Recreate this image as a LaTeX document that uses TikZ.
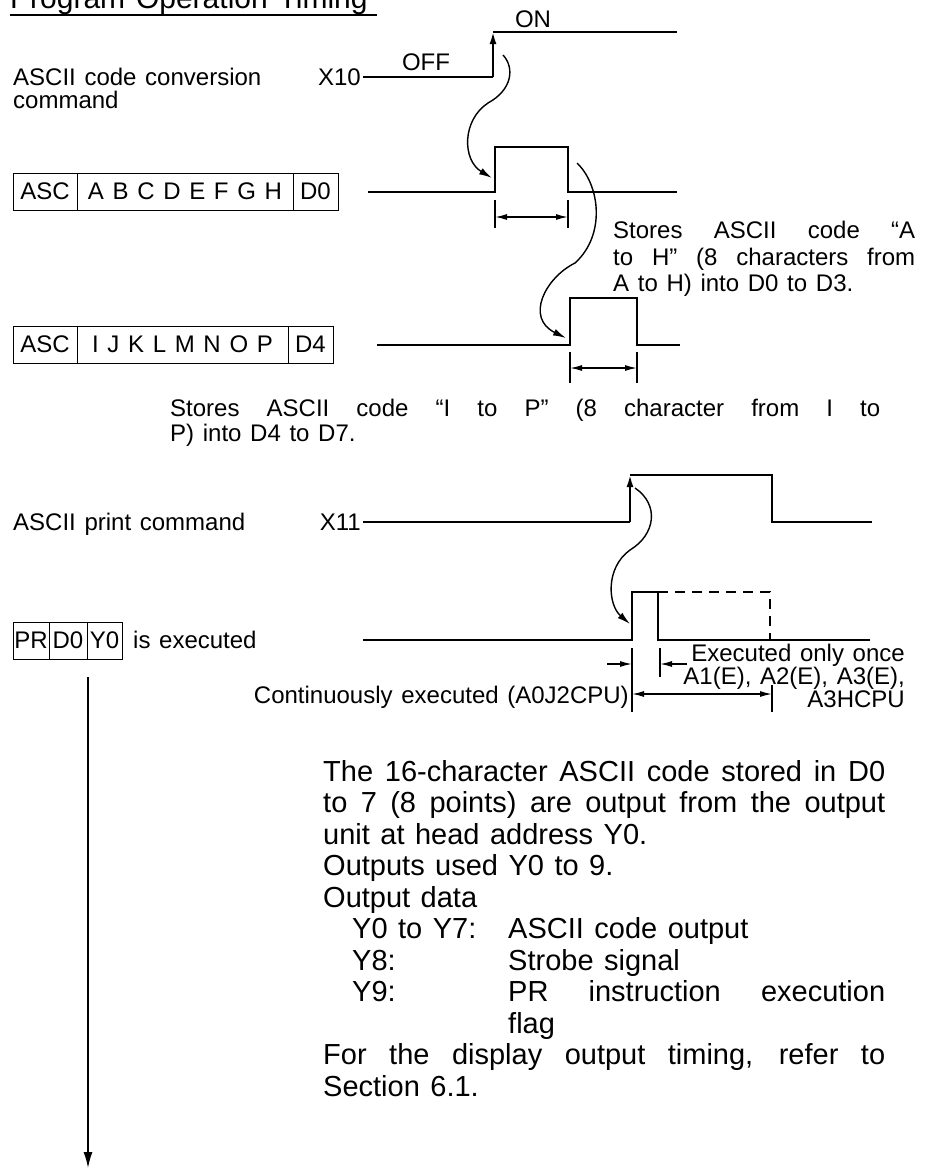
\documentclass[tikz,border=0pt]{standalone}
\usepackage{fontspec}
\setmainfont{Liberation Sans}[WordSpace=1.3]
\usetikzlibrary{arrows.meta,positioning,calc}
\setlength{\parindent}{0pt}
\tikzset{txt/.style={inner sep=0pt, font=\fontsize{24}{24}\selectfont}}
\tikzset{cell/.style={draw, line width=1pt, inner sep=0pt, outer sep=0pt, minimum height=37pt, font=\fontsize{24}{24}\selectfont}}
\tikzset{wave/.style={line width=2pt}}
\tikzset{edgearrow/.style={line width=2pt, -{Latex[length=12pt,width=7pt]}}}
\tikzset{curvearrow/.style={line width=1.4pt, -{Latex[length=13pt,width=7pt]}}}
\tikzset{dim/.style={line width=1.4pt, {Latex[length=12pt,width=6pt]}-{Latex[length=12pt,width=6pt]}}}
\tikzset{onearrow/.style={line width=1.4pt, -{Latex[length=12pt,width=6pt]}}}
\tikzset{tick/.style={line width=1.4pt}}

\begin{document}
\begin{tikzpicture}[x=1pt, y=-1pt, node distance=0pt]
  \clip (0,0) rectangle (925,1170);

  \node[txt, anchor=base west, font=\fontsize{30}{30}\selectfont] (title) at (10,8) {Program Operation Timing};
  \draw[line width=1.5pt] (10,15) -- (377,15);

  % conversion command
  \node[txt, anchor=north west, align=left, font=\fontsize{24}{23}\selectfont] (conv-cmd) at (13,68) {ASCII code conversion\\command};
  \node[txt, anchor=base east] (x10) at (361,85) {X10};
  \node[txt, anchor=base] (off) at (426,70) {OFF};
  \node[txt, anchor=base] (on) at (533,27) {ON};
  \coordinate (x10-start) at (363,77);
  \coordinate (x10-up-0) at (493,77);
  \coordinate (x10-up-1) at (493,32);
  \coordinate (x10-end) at (677,32);
  \draw[wave] (x10-start) -- (x10-up-0);
  \draw[edgearrow] (x10-up-0) -- (x10-up-1);
  \draw[wave] (x10-up-1) -- (x10-end);

  % first ASC
  \node[cell, minimum width=64pt, anchor=north west] (asc-1) at (13,173) {ASC};
  \node[cell, minimum width=216pt, right=of asc-1] (chars-1) {A B C D E F G H};
  \node[cell, minimum width=45pt, right=of chars-1] (dev-1) {D0};
  \coordinate (p1-start) at (368,192);
  \coordinate (p1-a) at (495,192);
  \coordinate (p1-b) at (495,147);
  \coordinate (p1-c) at (568,147);
  \coordinate (p1-d) at (568,192);
  \coordinate (p1-end) at (677,192);
  \draw[wave] (p1-start) -- (p1-a) -- (p1-b) -- (p1-c) -- (p1-d) -- (p1-end);
  \draw[tick] (495,200) -- (495,228);
  \draw[tick] (568,200) -- (568,228);
  \draw[dim] (495,217) -- (568,217);
  \coordinate (curve-1-a) at (503,55);
  \coordinate (curve-1-b) at (492,178);
  \draw[curvearrow] (curve-1-a) .. controls (515,68) and (512,90) .. (488,103) .. controls (462,120) and (462,160) .. (curve-1-b);

  \node[txt, anchor=north west, text width=302pt, align=justify, font=\fontsize{24}{26.5}\selectfont] (stores-1) at (613,221)
    {Stores ASCII code “A\linebreak to H” (8 characters from\linebreak A to H) into D0 to D3.};

  % second ASC
  \node[cell, minimum width=64pt, anchor=north west] (asc-2) at (13,326) {ASC};
  \node[cell, minimum width=211pt, right=of asc-2] (chars-2) {I J K L M N O P};
  \node[cell, minimum width=45pt, right=of chars-2] (dev-2) {D4};
  \coordinate (p2-start) at (377,345);
  \coordinate (p2-a) at (570,345);
  \coordinate (p2-b) at (570,298);
  \coordinate (p2-c) at (637,298);
  \coordinate (p2-d) at (637,345);
  \coordinate (p2-end) at (680,345);
  \draw[wave] (p2-start) -- (p2-a) -- (p2-b) -- (p2-c) -- (p2-d) -- (p2-end);
  \draw[tick] (570,352) -- (570,383);
  \draw[tick] (637,352) -- (637,383);
  \draw[dim] (570,368) -- (637,368);
  \coordinate (curve-2-a) at (577,163);
  \coordinate (curve-2-b) at (566,338);
  \draw[curvearrow] (curve-2-a) .. controls (600,185) and (606,235) .. (575,263) .. controls (545,278) and (525,318) .. (curve-2-b);

  \node[txt, anchor=north west, text width=710pt, align=justify, font=\fontsize{24}{25}\selectfont] (stores-2) at (170,399)
    {Stores ASCII code “I to P” (8 character from I to\linebreak P) into D4 to D7.};

  % print command
  \node[txt, anchor=base west] (print-cmd) at (13,530) {ASCII print command};
  \node[txt, anchor=base east] (x11) at (361,530) {X11};
  \coordinate (x11-start) at (363,522);
  \coordinate (x11-up-0) at (630,522);
  \coordinate (x11-up-1) at (630,475);
  \coordinate (x11-c) at (772,475);
  \coordinate (x11-d) at (772,522);
  \coordinate (x11-end) at (872,522);
  \draw[wave] (x11-start) -- (x11-up-0);
  \draw[edgearrow] (x11-up-0) -- (x11-up-1);
  \draw[wave] (x11-up-1) -- (x11-c) -- (x11-d) -- (x11-end);

  % PR
  \node[cell, minimum width=36pt, anchor=north west] (pr-op) at (13,622) {PR};
  \node[cell, minimum width=38pt, right=of pr-op] (pr-src) {D0};
  \node[cell, minimum width=35pt, right=of pr-src] (pr-dst) {Y0};
  \node[txt, anchor=base west] (pr-note) at (133,648) {is executed};
  \coordinate (pr-start) at (363,640);
  \coordinate (pr-a) at (632,640);
  \coordinate (pr-b) at (632,592);
  \coordinate (pr-c) at (658,592);
  \coordinate (pr-d) at (658,640);
  \coordinate (pr-end) at (870,640);
  \draw[wave] (pr-start) -- (pr-a) -- (pr-b) -- (pr-c) -- (pr-d) -- (pr-end);
  \draw[wave, dash pattern=on 10pt off 7pt] (pr-c) -- (770,592) -- (770,640);
  \coordinate (curve-3-a) at (635,488);
  \coordinate (curve-3-b) at (630,624);
  \draw[curvearrow] (curve-3-a) .. controls (660,505) and (655,535) .. (630,550) .. controls (605,568) and (608,605) .. (curve-3-b);

  \draw[tick] (632,648) -- (632,712);
  \draw[tick] (660,648) -- (660,677);
  \draw[tick] (772,685) -- (772,712);
  \draw[onearrow] (607,664) -- (632,664);
  \draw[onearrow] (687,664) -- (660,664);
  \draw[dim] (632,694) -- (772,694);
  \node[txt, anchor=north east, align=right, font=\fontsize{24}{20}\selectfont] (once) at (905,644)
    {Executed only once\\A1(E), A2(E), A3(E),\\A3HCPU};
  \node[txt, anchor=base east] (cont) at (629,703) {Continuously executed (A0J2CPU)};

  \coordinate (flow-start) at (88,677);
  \coordinate (flow-end) at (88,1168);
  \draw[line width=1.5pt, -{Latex[length=16pt,width=9pt]}] (flow-start) -- (flow-end);

  \node[txt, anchor=north west, text width=562pt, align=justify, font=\fontsize{29}{31.5}\selectfont] (note) at (323,760)
    {The 16-character ASCII code stored in D0\linebreak
     to 7 (8 points) are output from the output\linebreak
     unit at head address Y0.\\
     Outputs used Y0 to 9.\\
     Output data\\
     \hspace*{29pt}\makebox[156pt][l]{Y0 to Y7:}ASCII code output\\
     \hspace*{29pt}\makebox[156pt][l]{Y8:}Strobe signal\\
     \hspace*{29pt}\makebox[156pt][l]{Y9:}PR instruction execution\linebreak
     \hspace*{185pt}flag\\
     For the display output timing, refer to\linebreak
     Section 6.1.};
\end{tikzpicture}
\end{document}
